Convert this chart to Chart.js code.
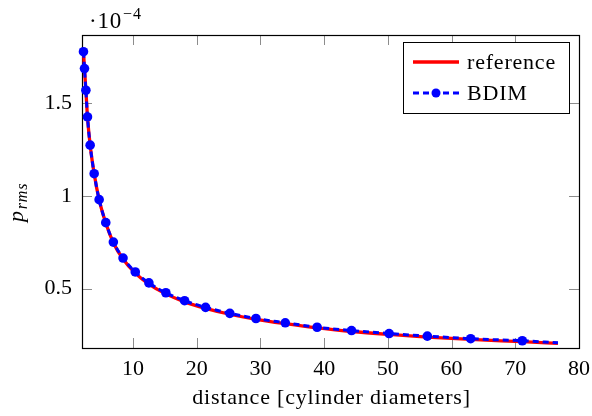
<!DOCTYPE html>
<html>
<head>
<meta charset="utf-8">
<script src="https://cdn.jsdelivr.net/npm/chart.js@4.4.0/dist/chart.umd.min.js"></script>
<style>
  body { margin: 0; background: #fff; }
  #wrap { width: 592px; height: 416px; }
</style>
</head>
<body>
<div id="wrap"><canvas id="prms-chart" width="592" height="416"></canvas></div>
<script>
Chart.defaults.font.family = '"Liberation Serif", "Times New Roman", serif';
Chart.defaults.color = '#000';

// distance from the cylinder, in diameters
const distance = [2.23, 2.39, 2.61, 2.86, 3.28, 3.91, 4.69, 5.73, 6.92, 8.44,
  10.36, 12.5, 15.16, 18.1, 21.4, 25.2, 29.3, 33.9, 38.9, 44.3,
  50.2, 56.2, 63.0, 71.1, 76.7];

// p_rms in units of 1e-4
const referencePrms = [1.778, 1.687, 1.570, 1.426, 1.274, 1.120, 0.980, 0.854, 0.748, 0.660,
  0.584, 0.525, 0.472, 0.429, 0.394, 0.362, 0.335, 0.311, 0.288, 0.269,
  0.253, 0.239, 0.226, 0.214, 0.205];
const bdimPrms = [1.778, 1.687, 1.570, 1.426, 1.274, 1.120, 0.980, 0.856, 0.751, 0.665,
  0.590, 0.531, 0.478, 0.435, 0.399, 0.367, 0.339, 0.316, 0.292, 0.274,
  0.258, 0.244, 0.230, 0.219, 0.208];

const xTicks = [10, 20, 30, 40, 50, 60, 70, 80];
const yTicks = [0.5, 1, 1.5];

const seriesLabels = ['reference', 'BDIM'];
const xTitle = 'distance [cylinder diameters]';

const toPoints = (xs, ys) => xs.map((x, i) => ({ x: x, y: ys[i] }));

// last BDIM sample is only the end of the dashed line, no marker
const bdimRadius = distance.map((d, i) => (i === distance.length - 1 ? 0 : 4.8));

const tickFont = { size: 22 };
const serif = '"Liberation Serif", "Times New Roman", serif';

// pgfplots-like frame: box, inward grey ticks, exponent, axis titles, legend
const framePlugin = {
  id: 'frame',
  beforeDatasetsDraw(chart) {
    const { ctx, chartArea: a, scales } = chart;
    ctx.save();
    ctx.strokeStyle = '#8c8c8c';
    ctx.lineWidth = 1;
    const tl = 10;
    xTicks.forEach((v) => {
      const px = Math.round(scales.x.getPixelForValue(v)) + 0.5;
      ctx.beginPath();
      ctx.moveTo(px, a.bottom); ctx.lineTo(px, a.bottom - tl);
      ctx.moveTo(px, a.top); ctx.lineTo(px, a.top + tl);
      ctx.stroke();
    });
    yTicks.forEach((v) => {
      const py = Math.round(scales.y.getPixelForValue(v)) + 0.5;
      ctx.beginPath();
      ctx.moveTo(a.left, py); ctx.lineTo(a.left + tl, py);
      ctx.moveTo(a.right, py); ctx.lineTo(a.right - tl, py);
      ctx.stroke();
    });
    ctx.strokeStyle = '#000';
    ctx.lineWidth = 1.2;
    ctx.strokeRect(Math.round(a.left) + 0.5, Math.round(a.top) + 0.5,
      Math.round(a.right - a.left), Math.round(a.bottom - a.top));
    ctx.restore();
  },
  afterDraw(chart) {
    const { ctx, chartArea: a } = chart;
    ctx.save();
    ctx.fillStyle = '#000';
    ctx.textBaseline = 'alphabetic';
    ctx.letterSpacing = '0.8px';

    // exponent of the y axis
    ctx.font = '23px ' + serif;
    ctx.textAlign = 'left';
    ctx.fillText('\u00b710', a.left + 7, 28);
    const w10 = ctx.measureText('\u00b710').width;
    ctx.font = '16px ' + serif;
    ctx.fillText('\u22124', a.left + 8 + w10, 19);

    // x axis title
    ctx.font = '22px ' + serif;
    ctx.textAlign = 'center';
    ctx.textBaseline = 'middle';
    ctx.fillText(xTitle, (a.left + a.right) / 2 + 1, 398);

    // y axis title p_rms, rotated
    ctx.textAlign = 'left';
    ctx.textBaseline = 'alphabetic';
    ctx.translate(23, 222);
    ctx.rotate(-Math.PI / 2);
    ctx.font = 'italic 22px ' + serif;
    ctx.fillText('p', 0, 0);
    const wp = ctx.measureText('p').width;
    ctx.font = 'italic 16px ' + serif;
    ctx.fillText('rms', wp + 1, 4);
    ctx.setTransform(1, 0, 0, 1, 0, 0);

    // legend box
    const box = { x: 403.5, y: 42.5, w: 166, h: 71 };
    ctx.fillStyle = '#fff';
    ctx.fillRect(box.x, box.y, box.w, box.h);
    ctx.strokeStyle = '#000';
    ctx.lineWidth = 1;
    ctx.strokeRect(box.x, box.y, box.w, box.h);
    const rows = [62, 93];
    chart.data.datasets
      .slice()
      .sort((p, q) => seriesLabels.indexOf(p.label) - seriesLabels.indexOf(q.label))
      .forEach((ds, i) => {
        const y = rows[i];
        ctx.strokeStyle = ds.borderColor;
        ctx.lineWidth = ds.borderWidth;
        ctx.setLineDash(ds.borderDash || []);
        ctx.beginPath();
        ctx.moveTo(413, y); ctx.lineTo(459, y);
        ctx.stroke();
        ctx.setLineDash([]);
        if (ds.pointBackgroundColor) {
          ctx.fillStyle = ds.pointBackgroundColor;
          ctx.beginPath();
          ctx.arc(436, y, 4.5, 0, Math.PI * 2);
          ctx.fill();
        }
        ctx.fillStyle = '#000';
        ctx.font = '22px ' + serif;
        ctx.textBaseline = 'middle';
        ctx.fillText(ds.label, 467, y + 1);
      });
    ctx.restore();
  }
};

const config = {
  type: 'line',
  data: {
    datasets: [
      {
        label: seriesLabels[1],
        data: toPoints(distance, bdimPrms),
        borderColor: 'rgb(0, 0, 255)',
        borderWidth: 3,
        borderDash: [6, 4],
        pointRadius: bdimRadius,
        pointBackgroundColor: 'rgb(0, 0, 255)',
        pointBorderWidth: 0,
        cubicInterpolationMode: 'monotone',
        clip: false,
        order: 0
      },
      {
        label: seriesLabels[0],
        data: toPoints(distance, referencePrms),
        borderColor: 'rgb(255, 0, 0)',
        borderWidth: 3.3,
        pointRadius: 0,
        cubicInterpolationMode: 'monotone',
        clip: false,
        order: 1
      }
    ]
  },
  options: {
    responsive: false,
    animation: false,
    events: [],
    layout: { padding: { left: 0, right: 13, top: 35, bottom: 0 } },
    plugins: {
      legend: { display: false },
      tooltip: { enabled: false },
      title: { display: false }
    },
    scales: {
      x: {
        type: 'linear',
        min: 2,
        max: 80,
        grid: { display: false, drawTicks: false },
        border: { display: false },
        afterFit: (scale) => {
          scale.height = 68;
          scale.paddingLeft = 0;
          scale.paddingRight = 0;
        },
        afterBuildTicks: (scale) => { scale.ticks = xTicks.map((v) => ({ value: v })); },
        ticks: { font: tickFont, padding: 8, maxRotation: 0, autoSkip: false }
      },
      y: {
        type: 'linear',
        min: 0.18,
        max: 1.868,
        grid: { display: false, drawTicks: false },
        border: { display: false },
        afterFit: (scale) => {
          scale.width = 82;
          scale.paddingTop = 0;
          scale.paddingBottom = 0;
        },
        afterBuildTicks: (scale) => { scale.ticks = yTicks.map((v) => ({ value: v })); },
        ticks: {
          font: tickFont,
          padding: 10,
          callback: (v) => String(v)
        }
      }
    }
  },
  plugins: [framePlugin]
};

const ctx = document.getElementById('prms-chart').getContext('2d');
const prmsChart = new Chart(ctx, config);
</script>
</body>
</html>
